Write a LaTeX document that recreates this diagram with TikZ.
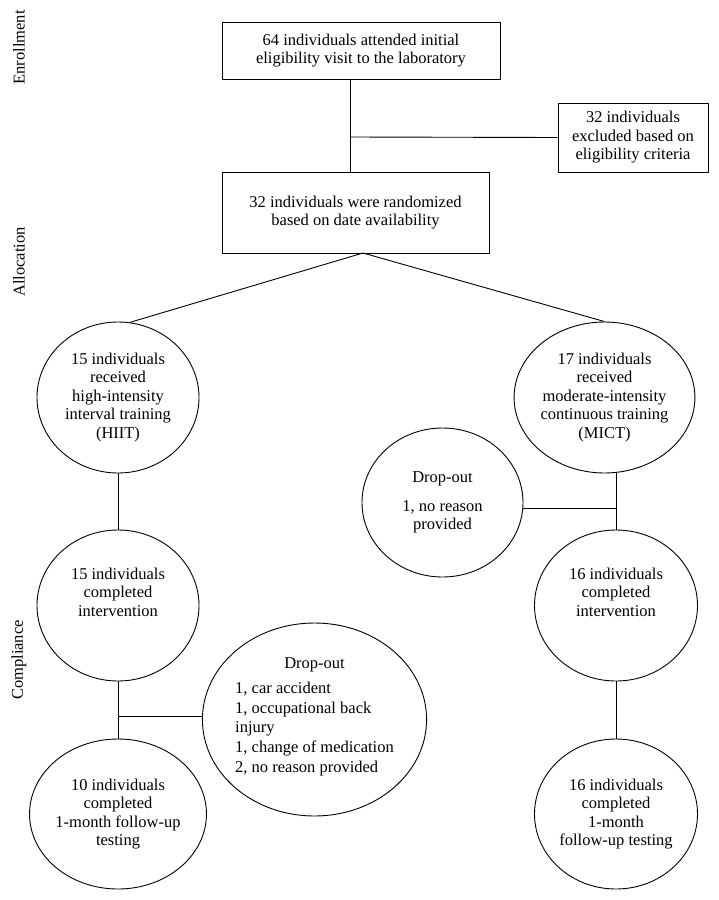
\documentclass[tikz,border=0pt]{standalone}
\usepackage{fontspec}
\setmainfont{Liberation Serif}
\usetikzlibrary{shapes.geometric}
\tikzset{
  txt/.style={font=\fontsize{16.5}{18.5}\selectfont, align=center, inner sep=0pt},
  boxnode/.style={txt, draw, line width=0.9pt},
  ovalnode/.style={txt, draw, ellipse, line width=0.9pt},
  conn/.style={line width=0.9pt},
  sidelabel/.style={font=\fontsize{16.5}{18.5}\selectfont, rotate=90, inner sep=0pt}
}
\begin{document}
\begin{tikzpicture}[x=1pt,y=-1pt]
\useasboundingbox (0,0) rectangle (719,900);

% side labels
\node[sidelabel] (lab1) at (19,47.5) {Enrollment};
\node[sidelabel] (lab2) at (19,262) {Allocation};
\node[sidelabel] (lab3) at (19,660) {Compliance};

% boxes
\node[boxnode, minimum width=278pt, minimum height=57pt] (top) at (361,50.5)
  {64 individuals attended initial\\eligibility visit to the laboratory};
\node[boxnode, minimum width=150pt, minimum height=69pt] (excl) at (633,137.5)
  {32 individuals\\excluded based on\\eligibility criteria};
\node[boxnode, minimum width=267pt, minimum height=81pt] (rand) at (355.5,212.5)
  {32 individuals were randomized\\based on date availability};

% ellipses
\node[ovalnode, minimum width=162pt, minimum height=151pt] (hiit) at (118,397.5)
  {15 individuals\\received\\high-intensity\\interval training\\(HIIT)};
\node[ovalnode, minimum width=163pt, minimum height=151pt] (mict) at (604.5,397.5)
  {17 individuals\\received\\moderate-intensity\\continuous training\\(MICT)};
\node[ovalnode, minimum width=161pt, minimum height=149pt] (dr) at (442.5,502.5)
  {Drop-out\\[10pt]1, no reason\\provided};
\node[ovalnode, minimum width=162pt, minimum height=151pt] (c15) at (118,605.5)
  {15 individuals\\completed\\intervention\\[8pt]};
\node[ovalnode, minimum width=163pt, minimum height=151pt] (c16a) at (616,605.5)
  {16 individuals\\completed\\intervention\\[8pt]};
\node[ovalnode, minimum width=206pt, minimum height=193pt] (dl) at (314.5,719.5)
  {\renewcommand{\arraystretch}{1.07}\begin{tabular}{@{}l@{}}
   \multicolumn{1}{@{}c@{}}{Drop-out}\\[5pt]
   1, car accident\\
   1, occupational back\\
   injury\\
   1, change of medication\\
   2, no reason provided\\[6pt]
   \end{tabular}};
\node[ovalnode, minimum width=162pt, minimum height=150pt] (f10) at (118,814)
  {10 individuals\\completed\\1-month follow-up\\testing};
\node[ovalnode, minimum width=163pt, minimum height=150pt] (f16) at (616,814)
  {16 individuals\\completed\\1-month\\follow-up testing};

% connectors
\coordinate (j0) at (350,137);
\draw[conn] (j0 |- top.south) -- (j0 |- rand.north);
\draw[conn] (j0) -- (excl.west);

\coordinate (split) at (363,253);
\draw[conn] (hiit.81) -- (split) -- (mict.north);

\draw[conn] (hiit.south) -- (c15.north);
\draw[conn] (c15.south) -- (f10.north);
\coordinate (j1) at (118,716);
\draw[conn] (j1) -- (j1 -| dl.west);

\draw[conn] (c16a.north) -- (c16a.north |- mict.south);
\coordinate (j2) at (616,508);
\draw[conn] (j2) -- (j2 -| dr.east);
\draw[conn] (c16a.south) -- (f16.north);
\end{tikzpicture}
\end{document}
